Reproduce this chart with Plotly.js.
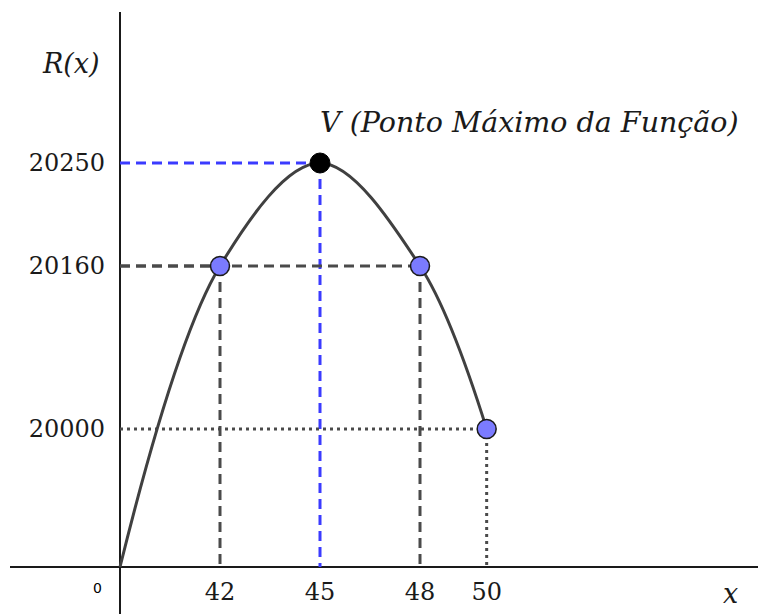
<!DOCTYPE html>
<html>
<head>
<meta charset="utf-8">
<script src="https://cdn.plot.ly/plotly-3.0.1.min.js"></script>
<style>
  html, body { margin: 0; padding: 0; background: #fff; }
  #chart { width: 758px; height: 614px; }
</style>
</head>
<body>
<div id="chart"></div>
<script>
// --- DATOS: receita R(x) nos pontos marcados ---
const xValues = [0, 42, 45, 48, 50];
const revenue = [0, 20160, 20250, 20160, 20000];
const pointKind = ['origem', 'ponto', 'vertice', 'ponto', 'fim'];

const xTickVals = [42, 45, 48, 50];
const yTickVals = [20000, 20160, 20250];

const vertexLabel = 'V (Ponto Máximo da Função)';

// --- EIXOS QUEBRADOS (esquema, como no desenho original) ---
// valor real -> unidade de tela (1 unidade = 1 px)
const xKnots = { value: [0, 42, 48], pos: [0, 100, 300] };
const yKnots = { value: [0, 20000, 20160, 20250], pos: [0, 138, 301, 404] };

function brokenScale(knots) {
  const v = knots.value, p = knots.pos;
  return function (val) {
    let i = 0;
    while (i < v.length - 2 && val > v[i + 1]) i++;
    const t = (val - v[i]) / (v[i + 1] - v[i]);
    return p[i] + t * (p[i + 1] - p[i]);
  };
}
const sx = brokenScale(xKnots);
const sy = brokenScale(yKnots);

const serif = '"DejaVu Serif", "Liberation Serif", serif';
const ink = '#1a1a1a';

// --- LINHAS DE CHAMADA ---
const guideStyle = {
  ponto:   { color: '#4a4a4a', dash: '10px,6px' },
  vertice: { color: '#3b3bff', dash: '10px,6px' },
  fim:     { color: '#4a4a4a', dash: '3px,4px' }
};

const traces = [];

xValues.forEach((x, i) => {
  const st = guideStyle[pointKind[i]];
  if (!st) return;
  // horizontal: do eixo R(x) até o ponto
  traces.push({
    x: [sx(0), sx(x)], y: [sy(revenue[i]), sy(revenue[i])],
    mode: 'lines', hoverinfo: 'skip', showlegend: false,
    line: { color: st.color, width: 3, dash: st.dash }
  });
  // vertical: do ponto até o eixo x
  traces.push({
    x: [sx(x), sx(x)], y: [sy(revenue[i]), sy(0)],
    mode: 'lines', hoverinfo: 'skip', showlegend: false,
    line: { color: st.color, width: 3, dash: st.dash }
  });
});

// curva da função
traces.push({
  x: xValues.map(sx), y: revenue.map(sy),
  mode: 'lines', showlegend: false, hoverinfo: 'skip',
  line: { color: '#404040', width: 3, shape: 'spline', smoothing: 1 }
});

// pontos azuis
const blue = xValues.map((x, i) => i).filter(i => pointKind[i] === 'ponto' || pointKind[i] === 'fim');
traces.push({
  x: blue.map(i => sx(xValues[i])), y: blue.map(i => sy(revenue[i])),
  mode: 'markers', showlegend: false,
  marker: { color: '#7b7bff', size: 19, line: { color: '#1a1a1a', width: 1.5 } }
});

// vértice
const iv = pointKind.indexOf('vertice');
traces.push({
  x: [sx(xValues[iv])], y: [sy(revenue[iv])],
  mode: 'markers', showlegend: false,
  marker: { color: '#000000', size: 20, line: { color: '#000000', width: 1 } }
});

const W = 758, H = 614;
const margin = { l: 10, r: 0, t: 12, b: 0 };
const xRange = [-110, -110 + (W - margin.l - margin.r)];
const yRange = [-47, -47 + (H - margin.t - margin.b)];

const layout = {
  width: W, height: H,
  margin: margin,
  paper_bgcolor: '#ffffff',
  plot_bgcolor: '#ffffff',
  xaxis: {
    range: xRange,
    anchor: 'free',
    position: (0 - yRange[0]) / (yRange[1] - yRange[0]),
    showgrid: false,
    zeroline: true, zerolinecolor: ink, zerolinewidth: 2,
    showline: false,
    tickmode: 'array',
    tickvals: xTickVals.map(sx),
    ticktext: xTickVals.map(String),
    ticks: '',
    ticklabelstandoff: 8,
    tickfont: { family: serif, size: 24, color: ink },
    fixedrange: true
  },
  yaxis: {
    range: yRange,
    anchor: 'free',
    position: (0 - xRange[0]) / (xRange[1] - xRange[0]),
    showgrid: false,
    zeroline: true, zerolinecolor: ink, zerolinewidth: 2,
    showline: false,
    tickmode: 'array',
    tickvals: yTickVals.map(sy),
    ticktext: yTickVals.map(String),
    ticks: '',
    ticklabelstandoff: 15,
    tickfont: { family: serif, size: 24, color: ink },
    fixedrange: true
  },
  annotations: [
    {
      x: sx(xValues[iv]), y: sy(revenue[iv]), xref: 'x', yref: 'y',
      text: vertexLabel, showarrow: false,
      xanchor: 'left', yanchor: 'middle', xshift: -2, yshift: 41,
      font: { family: serif, size: 28.5, style: 'italic', color: ink }
    },
    {
      x: sx(0), y: 504, xref: 'x', yref: 'y',
      text: 'R(x)', showarrow: false,
      xanchor: 'right', yanchor: 'middle', xshift: -18,
      font: { family: serif, size: 27, style: 'italic', color: ink }
    },
    {
      x: xRange[1], y: sy(0), xref: 'x', yref: 'y',
      text: 'x', showarrow: false,
      xanchor: 'right', yanchor: 'middle', xshift: -18, yshift: -26,
      font: { family: serif, size: 27, style: 'italic', color: ink }
    },
    {
      x: sx(0), y: sy(0), xref: 'x', yref: 'y',
      text: '0', showarrow: false,
      xanchor: 'right', yanchor: 'middle', xshift: -16, yshift: -21,
      font: { family: '"DejaVu Sans", sans-serif', size: 14, color: '#000000' }
    }
  ]
};

Plotly.newPlot('chart', traces, layout, { staticPlot: true, displayModeBar: false });
</script>
</body>
</html>
